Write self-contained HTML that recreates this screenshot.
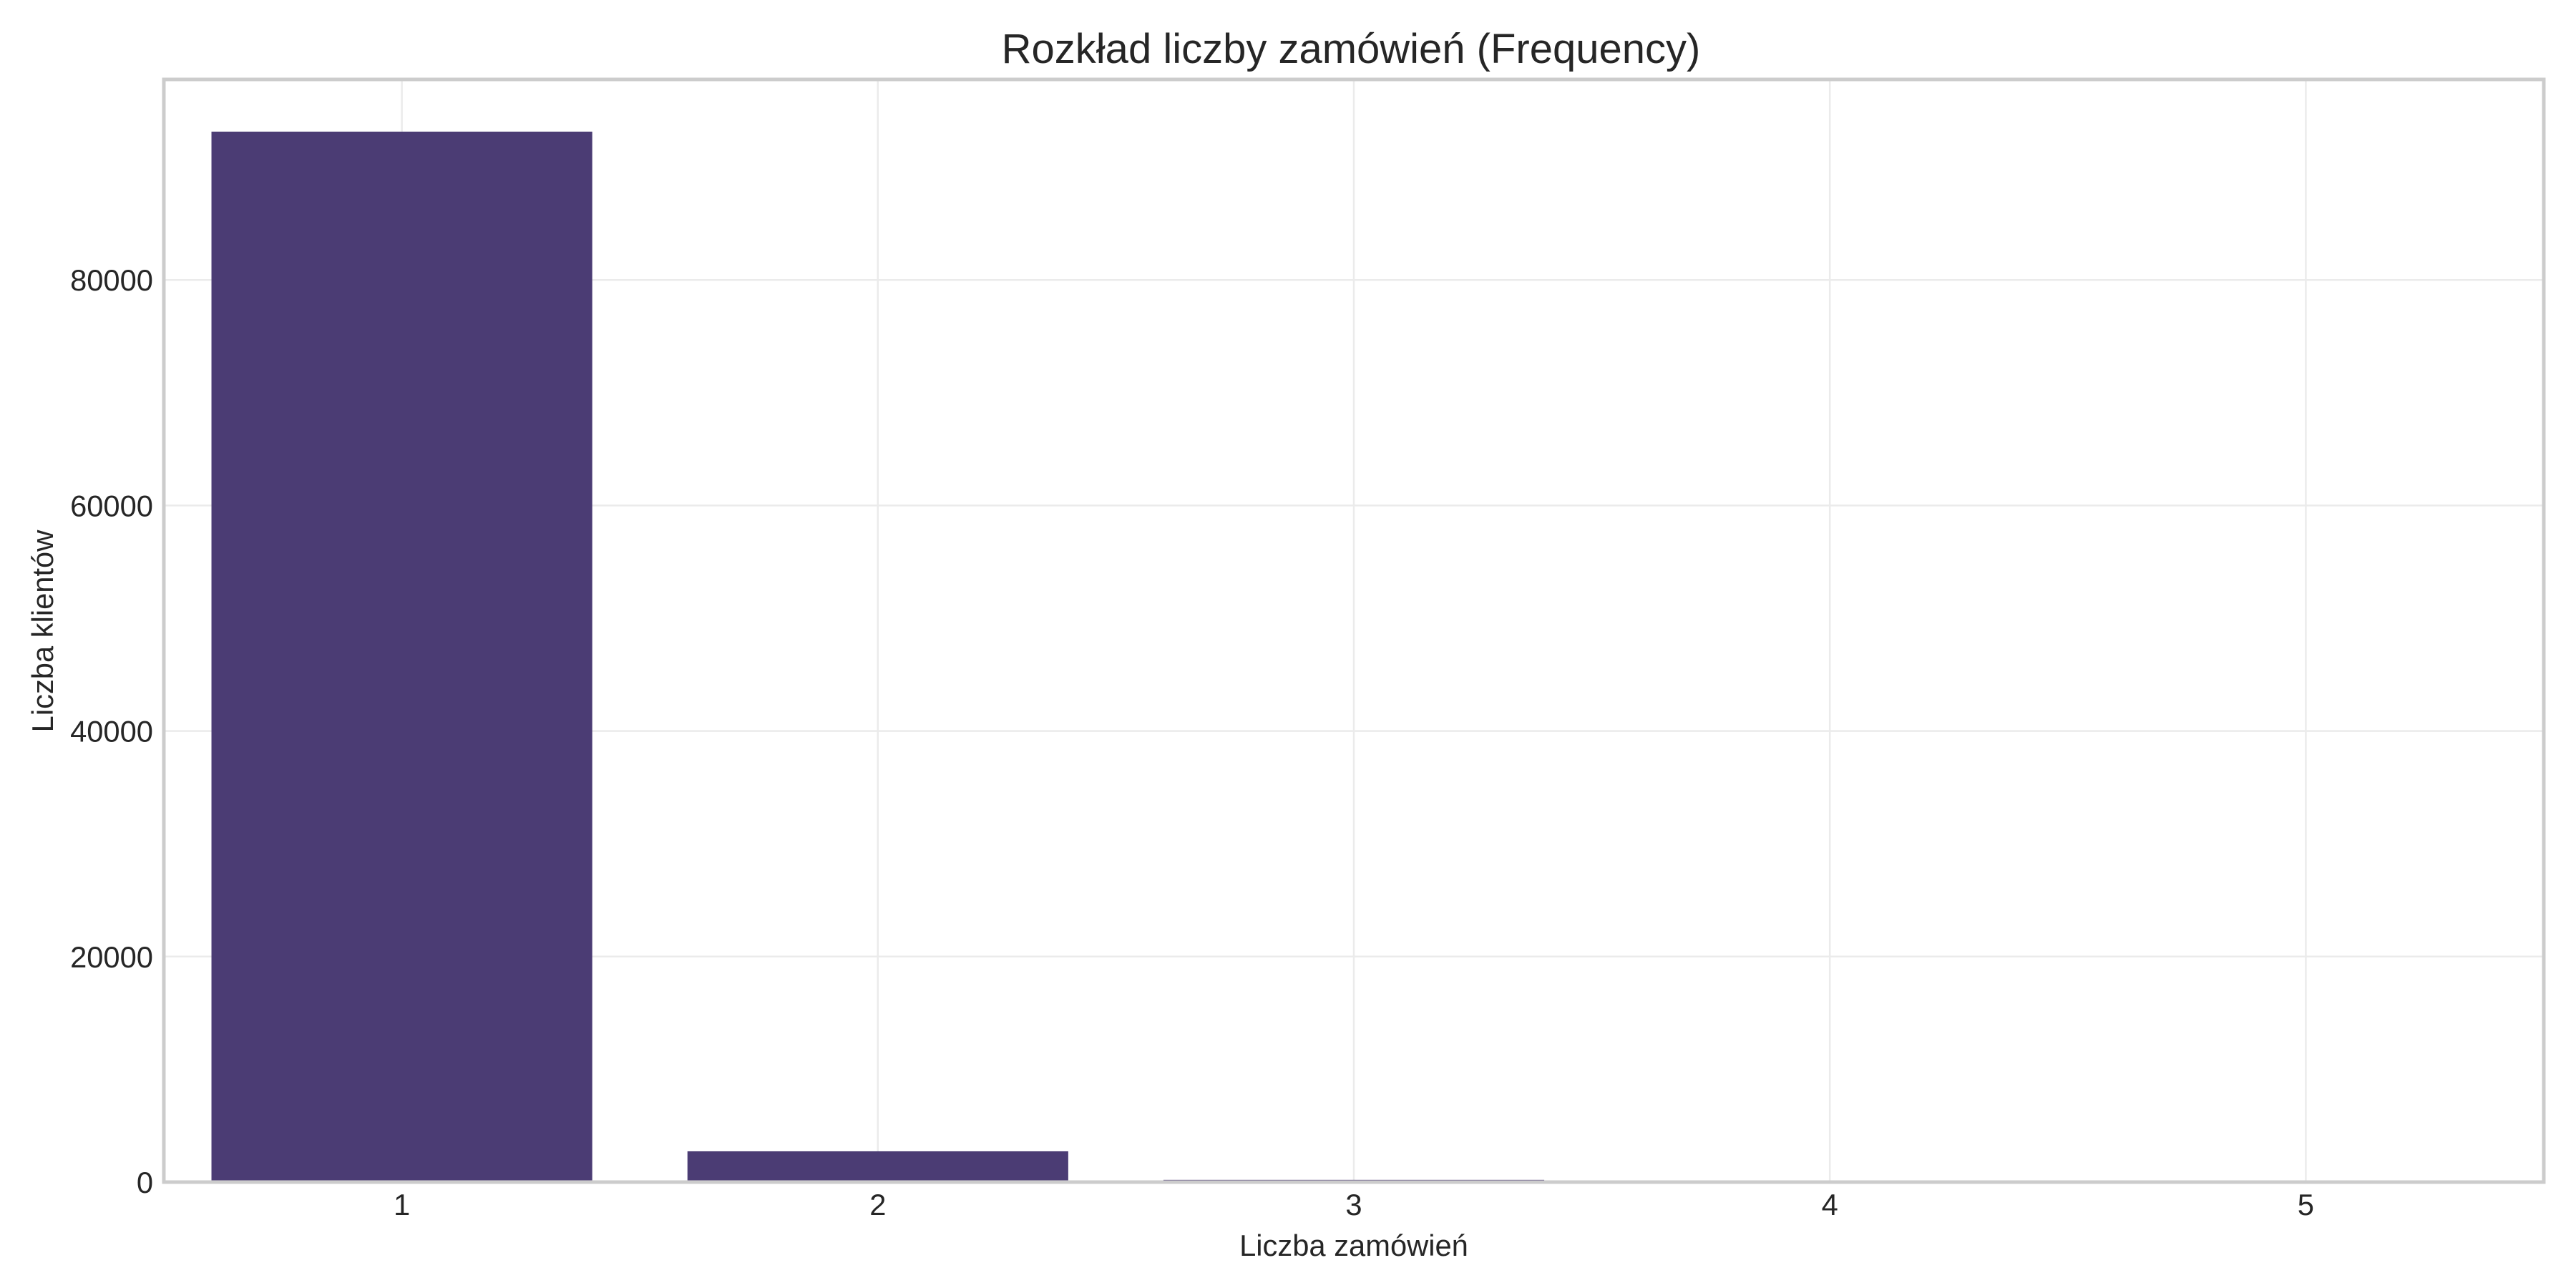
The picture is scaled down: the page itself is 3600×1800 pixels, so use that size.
<!DOCTYPE html>
<html><head><meta charset="utf-8"><style>
html,body{margin:0;padding:0;background:#fff;}
svg{display:block;font-family:"Liberation Sans",Arial,sans-serif;}
</style></head><body>
<svg id="chart" width="3600" height="1800" viewBox="0 0 3600 1800">
<rect width="3600" height="1800" fill="#fff"/>
<g id="grid"></g>
<g id="bars"></g>
<rect x="229" y="111" width="3326" height="1541" fill="none" stroke="#cccccc" stroke-width="5"/>
<g id="ticks" fill="#262626" font-size="41.7"></g>
<text x="1888" y="88" text-anchor="middle" font-size="58" fill="#262626">Rozkład liczby zamówień (Frequency)</text>
<text x="1892" y="1755" text-anchor="middle" font-size="41.7" fill="#262626">Liczba zamówień</text>
<text transform="translate(74,882) rotate(-90)" text-anchor="middle" font-size="41.7" fill="#262626">Liczba klientów</text>
</svg>
<script>
const categories = [1, 2, 3, 4, 5];
const customers = [93150, 2730, 200, 20, 4];
const yTicks = [0, 20000, 40000, 60000, 80000];
const yTickLabels = ["0", "20000", "40000", "60000", "80000"];

const NS = "http://www.w3.org/2000/svg";
const L = 229, R = 3555, T = 111, B = 1652;
const xMin = 0.5, xMax = 5.5, yMax = 97780;
const xs = v => L + (v - xMin) / (xMax - xMin) * (R - L);
const ys = v => B - v / yMax * (B - T);
function mk(tag, attrs, parent) {
  const e = document.createElementNS(NS, tag);
  for (const k in attrs) e.setAttribute(k, attrs[k]);
  parent.appendChild(e);
  return e;
}
const grid = document.getElementById("grid");
const bars = document.getElementById("bars");
const ticks = document.getElementById("ticks");
yTicks.forEach((t, i) => {
  const g = mk("line", {x1: L, x2: R, y1: ys(t), y2: ys(t), stroke: "#ebebeb", "stroke-width": 2.5}, grid);
  
  
  const tx = mk("text", {x: 214, y: ys(t) + 15, "text-anchor": "end"}, ticks);
  tx.textContent = yTickLabels[i];
  
  
});
categories.forEach((c, i) => {
  const g = mk("line", {x1: xs(c), x2: xs(c), y1: T, y2: B, stroke: "#ebebeb", "stroke-width": 2.5}, grid);
  
  
  const x0 = xs(c - 0.4), x1 = xs(c + 0.4);
  const b = mk("rect", {x: x0, y: ys(customers[i]), width: x1 - x0, height: B - ys(customers[i]), fill: "#4b3c74"}, bars);
  
  
  const tx = mk("text", {x: xs(c), y: 1698, "text-anchor": "middle"}, ticks);
  tx.textContent = String(c);
  
  
});
</script>
</body></html>
